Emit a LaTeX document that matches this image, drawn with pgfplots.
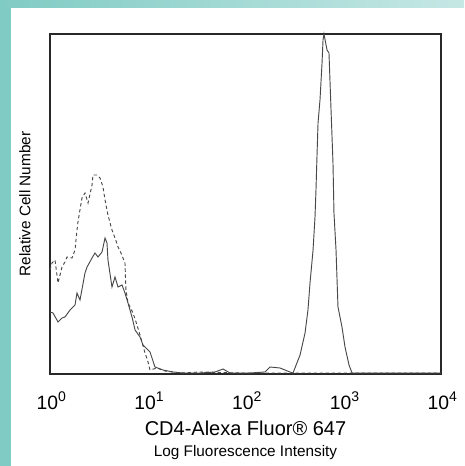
\documentclass[border=0pt]{standalone}
\usepackage{fontspec}
\setmainfont{Liberation Sans}
\usepackage{pgfplots}
\pgfplotsset{compat=1.18}
\definecolor{teal1}{RGB}{128,203,196}
\definecolor{lineblk}{RGB}{40,40,40}
\newcommand{\pw}[1]{10\raisebox{0.42em}{\fontsize{10.5}{12}\selectfont #1}}

% stained sample (solid), x = log10 intensity, y = relative count
\pgfplotstableread{
lx y
0.000 62
0.031 61
0.082 52
0.123 56
0.153 57
0.205 64
0.256 69
0.276 81
0.307 74
0.358 101
0.379 107
0.430 116
0.460 121
0.491 117
0.532 122
0.563 136
0.583 131
0.593 114
0.634 87
0.665 97
0.696 87
0.737 89
0.767 81
0.798 71
0.839 57
0.870 44
0.921 37
0.951 29
1.023 22
1.074 7
1.156 4
1.258 2
1.361 1
1.535 1
1.688 2
1.770 5
1.841 1
2.046 1
2.199 2
2.251 7
2.353 6
2.455 2
2.486 1
2.558 19
2.609 41
2.639 64
2.660 91
2.691 124
2.711 157
2.721 184
2.731 217
2.742 251
2.762 274
2.783 311
2.793 334
2.803 340
2.824 329
2.834 324
2.854 321
2.875 264
2.895 211
2.905 161
2.926 124
2.946 67
2.987 47
3.018 27
3.059 9
3.090 1
3.171 1
4.000 1
}\stained

% control (dashed)
\pgfplotstableread{
lx y
0.000 104
0.020 111
0.051 114
0.082 91
0.123 107
0.153 112
0.174 117
0.225 116
0.256 124
0.276 144
0.286 152
0.327 176
0.358 181
0.389 171
0.430 189
0.440 199
0.481 199
0.512 196
0.542 187
0.563 174
0.593 159
0.634 144
0.665 136
0.696 127
0.726 121
0.767 111
0.777 84
0.798 71
0.849 61
0.880 52
0.921 39
0.972 21
1.003 12
1.023 4
1.095 6
1.176 3
1.330 1
1.535 2
1.944 1
2.558 1
4.000 1
}\control

\begin{document}
\begin{tikzpicture}
% background panel
\fill[teal1] (-37.5pt,-69pt) rectangle (310.5pt,280.5pt);
\shade[left color=teal1, right color=teal1!45!white] (-37.5pt,274.5pt) rectangle (310.5pt,280.5pt);
\fill[white] (-29.25pt,-69pt) rectangle (310.5pt,274.5pt);
\path[use as bounding box] (-37.5pt,-69pt) rectangle (310.5pt,280.5pt);
\begin{axis}[
    scale only axis,
    width=293.25pt, height=255pt,
    xmin=0, xmax=4, ymin=0, ymax=340,
    xtick={0,1,2,3,4},
    xticklabels={\pw{0},\pw{1},\pw{2},\pw{3},\pw{4}},
    ytick=\empty,
    major tick length=0pt,
    axis line style={lineblk, line width=1.1pt},
    xticklabel style={font=\fontsize{14.5}{16}\selectfont, yshift=-9.5pt, xshift=1pt},
    xlabel={CD4-Alexa Fluor® 647\\[-1pt]{\fontsize{11.5}{13}\selectfont Log Fluorescence Intensity}},
    xlabel style={font=\fontsize{15}{17}\selectfont, align=center,
        at={(axis description cs:0.5,-0.124)}, anchor=north},
    ylabel={Relative Cell Number},
    ylabel style={font=\fontsize{11.5}{13}\selectfont,
        at={(axis description cs:-0.0639,0.5)}, anchor=center, rotate=0},
    clip=false,
]
\addplot[lineblk!85, line width=0.7pt, dash pattern=on 2.5pt off 2pt] table[x=lx, y=y] {\control};
\addplot[lineblk!85, line width=0.7pt] table[x=lx, y=y] {\stained};
\end{axis}
\end{tikzpicture}
\end{document}
